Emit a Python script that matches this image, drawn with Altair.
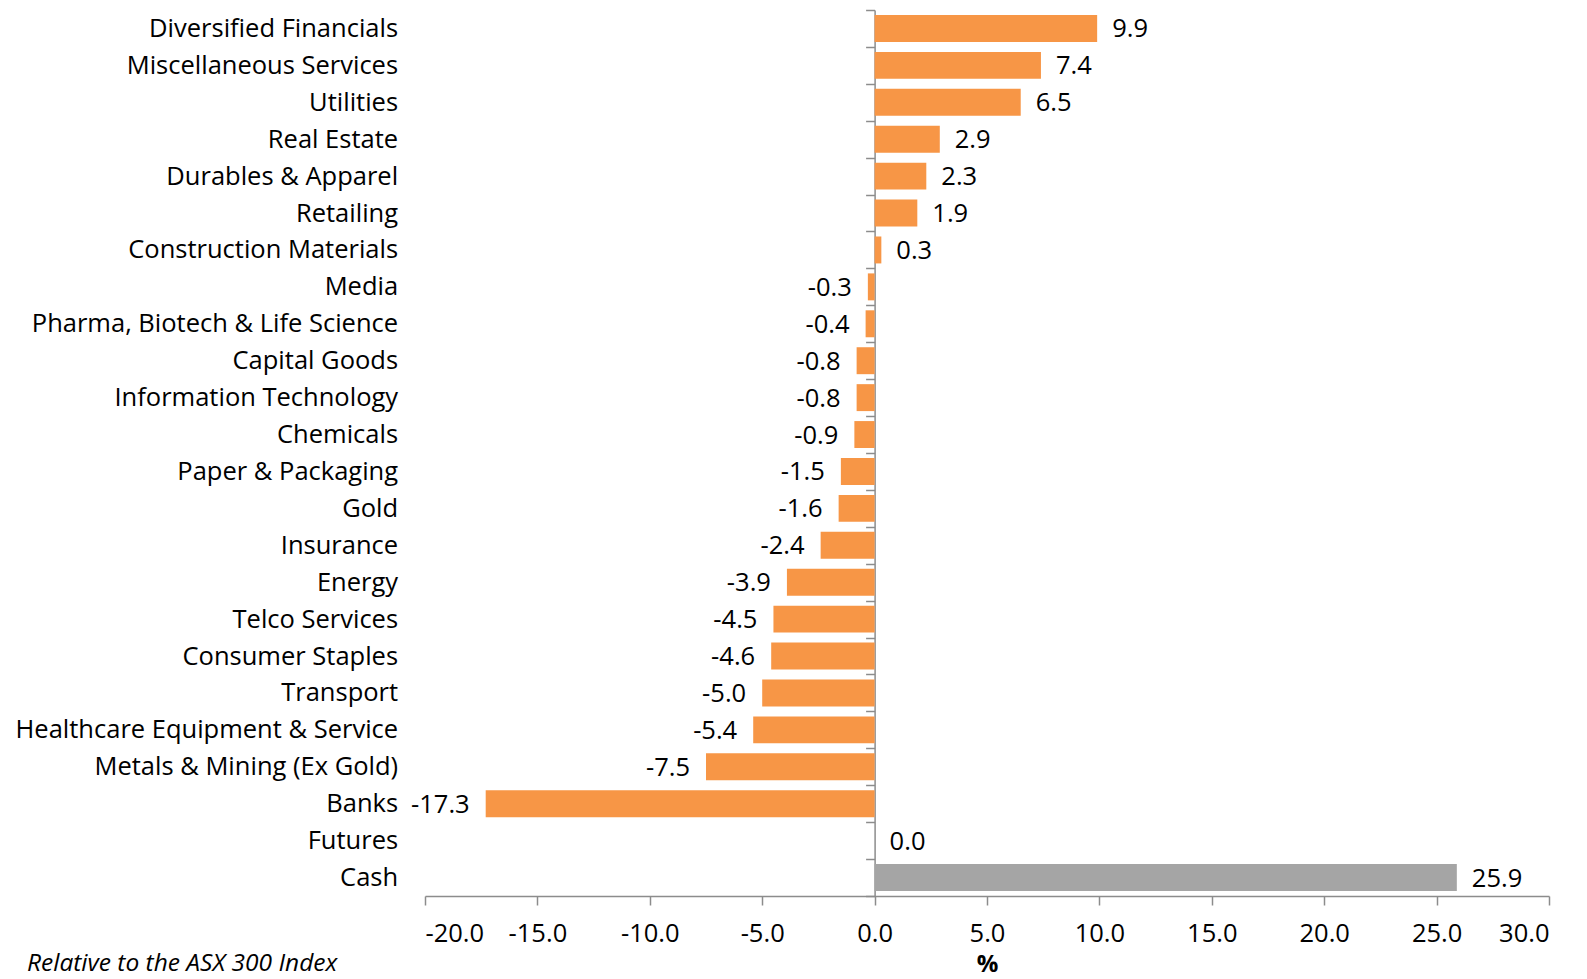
import altair as alt
import pandas as pd

categories = [
    "Diversified Financials", "Miscellaneous Services", "Utilities", "Real Estate",
    "Durables & Apparel", "Retailing", "Construction Materials", "Media",
    "Pharma, Biotech & Life Science", "Capital Goods", "Information Technology",
    "Chemicals", "Paper & Packaging", "Gold", "Insurance", "Energy",
    "Telco Services", "Consumer Staples", "Transport",
    "Healthcare Equipment & Service", "Metals & Mining (Ex Gold)", "Banks",
    "Futures", "Cash",
]
values = [9.9, 7.4, 6.5, 2.9, 2.3, 1.9, 0.3, -0.3, -0.4, -0.8, -0.8, -0.9,
          -1.5, -1.6, -2.4, -3.9, -4.5, -4.6, -5.0, -5.4, -7.5, -17.3, 0.0, 25.9]
groups = ["Sector"] * 23 + ["Cash"]
x_ticks = [-20, -15, -10, -5, 0, 5, 10, 15, 20, 25, 30]
note = "Relative to the ASX 300 Index"

df = pd.DataFrame({"cat": categories, "val": values, "grp": groups})

FONT = "Open Sans"
FS = 25.5
W, H = 1124, 886
AXC = "#8c8c8c"
zero_px = W * 20 / 50
FMT = "replace(format(%s, '.1f'), '\u2212', '-')"

y_enc = alt.Y(
    "cat:N", sort=categories, title=None,
    scale=alt.Scale(paddingInner=0, paddingOuter=0),
    axis=alt.Axis(
        orient="left", offset=-zero_px, tickBand="extent", tickSize=9,
        tickColor=AXC, domainColor=AXC, tickWidth=1.5, domainWidth=1.5,
        labelPadding=477 - 9, labelFont=FONT, labelFontSize=FS,
        labelColor="#000000", labelLimit=600,
    ),
)

x_enc = alt.X(
    "val:Q", title="%",
    scale=alt.Scale(domain=[-20, 30], nice=False, zero=False),
    axis=alt.Axis(
        values=x_ticks, labelExpr=FMT % "datum.value", tickSize=9, tickColor=AXC,
        domainColor=AXC, tickWidth=1.5, domainWidth=1.5, grid=False,
        labelFont=FONT, labelFontSize=FS, labelColor="#000000", labelPadding=16,
        titleFont=FONT, titleFontSize=24, titleFontWeight="bold",
        titleColor="#000000", titlePadding=6, titleBaseline="top",
    ),
)

base = alt.Chart(df).transform_calculate(lbl=FMT % "datum.val")

bars = base.mark_bar(height=alt.RelativeBandSize(0.73)).encode(
    y=y_enc, x=x_enc, x2=alt.datum(0),
    color=alt.Color("grp:N", scale=alt.Scale(domain=["Sector", "Cash"],
                                             range=["#F79646", "#A5A5A5"]), legend=None),
)

lab_pos = base.transform_filter("datum.val >= 0").mark_text(
    align="left", baseline="middle", dx=15, dy=1, font=FONT, fontSize=FS, color="#000000"
).encode(y=alt.Y("cat:N", sort=categories), x="val:Q", text="lbl:N")

lab_neg = base.transform_filter("datum.val < 0").mark_text(
    align="right", baseline="middle", dx=-16, dy=1, font=FONT, fontSize=FS, color="#000000"
).encode(y=alt.Y("cat:N", sort=categories), x="val:Q", text="lbl:N")

note_df = pd.DataFrame({"t": [note]})
note_mark = alt.Chart(note_df).mark_text(
    align="left", baseline="alphabetic", font=FONT, fontSize=24.5, fontStyle="italic",
    color="#000000"
).encode(text="t:N", x=alt.value(27 - 425), y=alt.value(H + 75))

chart = alt.layer(bars, lab_pos, lab_neg, note_mark).properties(
    width=W, height=H,
    autosize=alt.AutoSizeParams(type="none"),
    padding={"left": 425, "top": 10, "right": 38, "bottom": 83},
).configure(background="#ffffff").configure_view(stroke=None, strokeWidth=0)

chart.save("out.html", embed_options={"renderer": "svg", "actions": False})
